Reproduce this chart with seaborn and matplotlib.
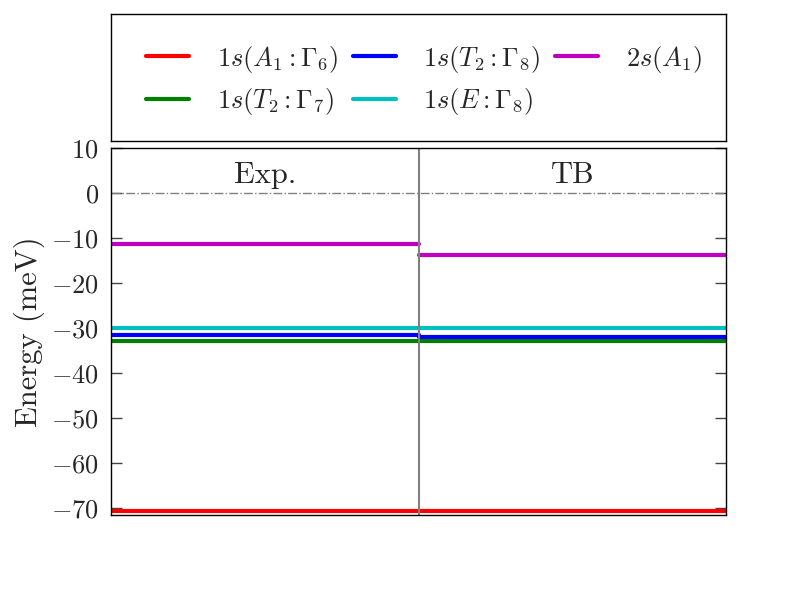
import matplotlib
matplotlib.use("Agg")
import matplotlib.pyplot as plt
import pandas as pd
import seaborn as sns

# Data #

states = [r"$1s(A_1:\Gamma_6)$", r"$1s(T_2:\Gamma_7)$", r"$1s(T_2:\Gamma_8)$",
          r"$1s(E:\Gamma_8)$", r"$2s(A_1)$"]
colors = ["#ff0000", "#008000", "#0000ff", "#00bfbf", "#bf00bf"]
methods = ["Exp.", "TB"]
exp_energy = [-70.6, -32.8, -31.6, -30.0, -11.4]
tb_energy = [-70.6, -32.8, -31.95, -30.0, -13.7]

# Building the long dataframe: each level is a flat segment over its column #

rows = []
for i, state in enumerate(states):
    for m, energies in enumerate([exp_energy, tb_energy]):
        for x in (m * 0.5, m * 0.5 + 0.5):
            rows.append({"state": state, "method": methods[m], "seg": f"{i}_{m}",
                         "x": x, "energy": energies[i]})
levels_df = pd.DataFrame(rows)

sns.set_theme(style="white")
plt.rcParams["font.family"] = "serif"
plt.rcParams["font.serif"] = ["cmr10"]
plt.rcParams["mathtext.fontset"] = "cm"
plt.rcParams["axes.formatter.use_mathtext"] = True

fig = plt.figure(figsize=(8, 6), dpi=100)
ax = fig.add_axes([0.139, 0.1417, 0.7685, 0.6116])
legax = fig.add_axes([0.139, 0.765, 0.7685, 0.212])

sns.lineplot(data=levels_df, x="x", y="energy", hue="state", units="seg",
             estimator=None, palette=colors, hue_order=states, lw=3,
             ax=ax, legend=False)

ax.axhline(0, color="gray", lw=1, ls="-.")
ax.axvline(0.5, color="gray", lw=1.5)
for m, name in enumerate(methods):
    ax.text(m * 0.5 + 0.25, 4, name, ha="center", va="center", fontsize=22)

ax.set_xlim(0, 1)
ax.set_ylim(-71.5, 10)
ax.set_yticks(range(-70, 11, 10))
ax.set_xticks([])
ax.set_xlabel("")
ax.set_ylabel("Energy (meV)", fontsize=22, labelpad=4)
ax.tick_params(axis="y", direction="in", length=8, width=1, color="#444444",
               labelsize=19, pad=9, left=True, right=True)
for s in ax.spines.values():
    s.set_color("black")
    s.set_linewidth(1)

# Legend box on its own axes #

handles = [plt.Line2D([], [], color=c, lw=3) for c in colors]
legax.set_xticks([])
legax.set_yticks([])
for s in legax.spines.values():
    s.set_color("black")
    s.set_linewidth(1)
legax.legend(handles, states, ncol=3, loc="upper left", bbox_to_anchor=(0.057, 0.765),
             frameon=False, fontsize=19, handlelength=1.63, handletextpad=1.05,
             columnspacing=0.55, labelspacing=0.42, borderaxespad=0, borderpad=0)

plt.savefig("out.png", dpi=100)
